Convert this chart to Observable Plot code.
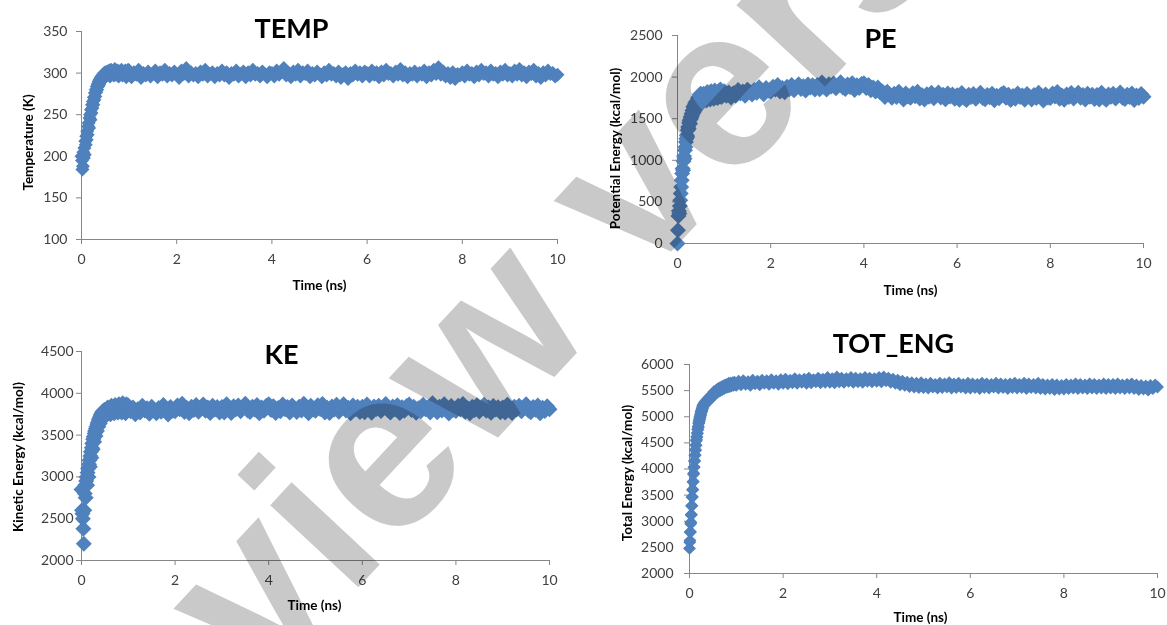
<!DOCTYPE html>
<html><head><meta charset="utf-8">
<script src="https://cdn.jsdelivr.net/npm/d3@7"></script>
<script src="https://cdn.jsdelivr.net/npm/@observablehq/plot@0.6"></script>
<style>
body{margin:0;background:#fff;}
#wrap{position:relative;width:1167px;height:625px;overflow:hidden;background:#fff;font-family:Lato,sans-serif;}
.panel{position:absolute;}
#wm{position:absolute;left:0;top:0;mix-blend-mode:multiply;pointer-events:none;}
</style></head>
<body><div id="wrap"></div>
<script>
// ---- data ----
const xTicks = [0, 2, 4, 6, 8, 10];
const xLabel = "Time (ns)";
const titles = ["TEMP", "PE", "KE", "TOT_ENG"];
const yLabels = ["Temperature (K)", "Potential Energy (kcal/mol)", "Kinetic Energy (kcal/mol)", "Total Energy (kcal/mol)"];
const tempTicks = [100, 150, 200, 250, 300, 350];
const peTicks = [0, 500, 1000, 1500, 2000, 2500];
const keTicks = [2000, 2500, 3000, 3500, 4000, 4500];
const totTicks = [2000, 2500, 3000, 3500, 4000, 4500, 5000, 5500, 6000];
const watermark = "Preview version";

// sample times (ns)
const riseTimes = [
0,0.01,0.02,0.03,0.04,0.05,0.06,0.07,0.08,0.09,
0.1,0.11,0.12,0.13,0.14,0.15,0.16,0.17,0.18,0.19,
0.2,0.21,0.22,0.23,0.24,0.25,0.26,0.27,0.28,0.29,
0.3,0.31,0.32,0.33,0.34,0.35,0.36,0.37,0.38,0.39,
0.4,0.41,0.42,0.43,0.44,0.45,0.46,0.47,0.48,0.49,
0.5,
0.52,0.54,0.56,0.58,0.6,0.62,0.64,0.66,0.68,0.7,
0.72,0.74,0.76,0.78,0.8,0.82,0.84,0.86,0.88,0.9,
0.92,0.94,0.96,0.98];
const totRiseTimes = [
0,0.005,0.01,0.015,0.02,0.025,0.03,0.035,0.04,0.045,
0.05,0.055,0.06,0.065,0.07,0.075,0.08,0.085,0.09,0.095,
0.1,0.105,0.11,0.115,0.12,0.125,0.13,0.135,0.14,0.145,
0.15,0.155,0.16,0.165,0.17,0.175,0.18,0.185,0.19,0.195,
0.2,0.205,0.21,0.215,0.22,0.225,0.23,0.235,0.24,0.245,
0.25,0.255,0.26,0.265,0.27,0.275,0.28,0.285,0.29,0.295,
0.3,
0.31,0.32,0.33,0.34,0.35,0.36,0.37,0.38,0.39,0.4,
0.41,0.42,0.43,0.44,0.45,0.46,0.47,0.48,0.49,0.5,
0.52,0.54,0.56,0.58,0.6,0.62,0.64,0.66,0.68,0.7,
0.72,0.74,0.76,0.78,0.8,0.82,0.84,0.86,0.88,0.9,
0.92,0.94,0.96,0.98];
const flatTimes = [
1,1.05,1.1,1.15,1.2,1.25,1.3,1.35,1.4,1.45,1.5,1.55,1.6,1.65,1.7,1.75,1.8,1.85,1.9,1.95,
2,2.05,2.1,2.15,2.2,2.25,2.3,2.35,2.4,2.45,2.5,2.55,2.6,2.65,2.7,2.75,2.8,2.85,2.9,2.95,
3,3.05,3.1,3.15,3.2,3.25,3.3,3.35,3.4,3.45,3.5,3.55,3.6,3.65,3.7,3.75,3.8,3.85,3.9,3.95,
4,4.05,4.1,4.15,4.2,4.25,4.3,4.35,4.4,4.45,4.5,4.55,4.6,4.65,4.7,4.75,4.8,4.85,4.9,4.95,
5,5.05,5.1,5.15,5.2,5.25,5.3,5.35,5.4,5.45,5.5,5.55,5.6,5.65,5.7,5.75,5.8,5.85,5.9,5.95,
6,6.05,6.1,6.15,6.2,6.25,6.3,6.35,6.4,6.45,6.5,6.55,6.6,6.65,6.7,6.75,6.8,6.85,6.9,6.95,
7,7.05,7.1,7.15,7.2,7.25,7.3,7.35,7.4,7.45,7.5,7.55,7.6,7.65,7.7,7.75,7.8,7.85,7.9,7.95,
8,8.05,8.1,8.15,8.2,8.25,8.3,8.35,8.4,8.45,8.5,8.55,8.6,8.65,8.7,8.75,8.8,8.85,8.9,8.95,
9,9.05,9.1,9.15,9.2,9.25,9.3,9.35,9.4,9.45,9.5,9.55,9.6,9.65,9.7,9.75,9.8,9.85,9.9,9.95,
10];

const temp = [
200,195,184,188,205,198,210,202,218,214,
224,220,230,226,236,240,234,246,250,244,
256,252,262,258,266,262,271,268,276,272,
280,277,284,280,287,284,290,286,292,289,
294,290,296,292,297,293,299,295,300,296,
301,
297,302,298,303,296,304,299,301,297,305,
298,300,303,296,302,299,304,297,301,298,
303,295,300,304,
303,295,301,298,304,294,300,297,302,296,299,303,295,301,298,304,296,300,297,302,
298,294,303,299,306,296,301,297,300,295,302,298,304,296,299,301,295,300,297,303,
297,301,294,300,298,303,296,299,302,295,301,297,304,298,300,296,302,299,295,301,
300,296,303,298,301,306,297,300,295,302,298,304,296,301,299,303,295,300,297,302,
299,295,301,297,304,298,300,296,302,294,299,301,293,300,297,303,298,301,296,302,
300,296,303,298,301,295,302,297,304,299,300,296,302,298,305,297,301,295,300,298,
302,296,300,298,303,295,301,297,304,299,307,298,302,296,300,294,301,293,299,297,
301,296,303,298,300,295,302,297,304,299,301,296,303,298,300,295,302,298,304,297,
300,296,303,298,305,297,301,295,302,299,304,296,300,294,301,297,303,299,300,296,
298];

const pe = [
0,160,330,390,360,450,520,600,680,760,
840,900,880,990,1050,1020,1120,1160,1220,1260,
1300,1280,1360,1400,1380,1450,1480,1440,1520,1500,
1560,1530,1600,1560,1640,1580,1660,1600,1690,1620,
1700,1640,1720,1650,1750,1660,1760,1680,1790,1690,
1800,
1760,1700,1800,1730,1780,1720,1820,1750,1790,1730,
1830,1770,1800,1740,1840,1760,1810,1750,1830,1770,
1850,1760,1820,1780,
1830,1777,1816,1755,1806,1777,1844,1803,1826,1777,1848,1823,1790,1845,1812,1879,1834,1793,1868,1835,
1826,1884,1850,1904,1826,1868,1818,1884,1854,1904,1842,1876,1914,1856,1890,1840,1910,1876,1902,1852,
1906,1854,1934,1878,1850,1914,1886,1922,1866,1898,1938,1874,1858,1910,1882,1926,1846,1902,1870,1918,
1925,1869,1905,1841,1874,1827,1876,1817,1824,1760,1823,1790,1751,1800,1761,1824,1776,1732,1802,1766,
1751,1807,1771,1823,1743,1783,1731,1795,1763,1811,1747,1779,1815,1755,1787,1735,1803,1767,1791,1739,
1781,1729,1809,1753,1725,1789,1761,1797,1741,1773,1813,1749,1733,1785,1757,1801,1721,1777,1745,1793,
1808,1752,1788,1724,1772,1740,1804,1760,1780,1728,1796,1768,1732,1784,1748,1812,1764,1720,1792,1756,
1748,1804,1768,1820,1740,1780,1728,1792,1760,1808,1744,1776,1812,1752,1784,1732,1800,1764,1788,1736,
1784,1732,1812,1756,1728,1792,1764,1800,1744,1776,1816,1752,1736,1788,1760,1804,1724,1780,1748,1796,
1765];

const ke = [
2850,2600,2560,2500,2380,2200,2600,2800,2900,2750,
2950,3000,2900,3050,3100,3000,3150,3200,3120,3250,
3300,3230,3350,3400,3330,3450,3480,3420,3520,3550,
3490,3580,3600,3550,3630,3650,3600,3680,3700,3640,
3720,3740,3680,3760,3700,3780,3720,3790,3730,3800,
3740,
3790,3740,3830,3770,3810,3750,3850,3780,3820,3760,
3860,3790,3830,3770,3870,3800,3840,3770,3880,3790,
3830,3760,3870,3800,
3855,3785,3830,3750,3810,3770,3850,3795,3820,3755,3840,3805,3760,3825,3780,3860,3800,3745,3835,3790,
3785,3855,3810,3875,3775,3825,3760,3840,3800,3860,3780,3820,3865,3790,3830,3765,3850,3805,3835,3770,
3835,3770,3870,3800,3765,3845,3810,3855,3785,3825,3875,3795,3775,3840,3805,3860,3760,3830,3790,3850,
3870,3800,3845,3765,3825,3785,3865,3810,3835,3770,3855,3820,3775,3840,3795,3875,3815,3760,3850,3805,
3790,3858,3812,3872,3770,3828,3765,3843,3805,3862,3778,3823,3868,3793,3826,3762,3853,3808,3838,3775,
3838,3772,3866,3803,3768,3842,3812,3851,3788,3828,3872,3798,3771,3843,3808,3858,3763,3833,3792,3847,
3866,3801,3840,3766,3822,3785,3862,3808,3831,3770,3880,3816,3772,3838,3795,3870,3811,3758,3848,3802,
3788,3852,3809,3873,3778,3822,3762,3838,3801,3857,3783,3819,3862,3791,3829,3768,3848,3806,3833,3772,
3830,3769,3864,3798,3764,3840,3808,3850,3784,3822,3869,3793,3773,3836,3803,3855,3760,3828,3787,3845,
3810];

const tot = [
2480,2600,2630,2790,2800,2950,2980,3120,3130,3290,
3300,3460,3470,3600,3610,3750,3760,3900,3920,4030,
4040,4150,4160,4260,4270,4370,4360,4460,4450,4540,
4560,4620,4610,4690,4680,4760,4750,4820,4800,4880,
4870,4930,4910,4970,4950,5010,4990,5050,5030,5090,
5070,5120,5100,5150,5130,5180,5160,5210,5190,5230,
5210,
5260,5230,5280,5250,5300,5270,5320,5290,5340,5300,
5360,5320,5380,5340,5390,5360,5410,5370,5430,5400,
5480,5430,5500,5460,5530,5480,5550,5500,5570,5520,
5590,5540,5610,5560,5620,5570,5640,5580,5640,5590,
5650,5600,5660,5610,
5600,5680,5610,5690,5620,5670,5600,5700,5630,5680,5610,5700,5640,5690,5620,5710,5640,5690,5620,5710,
5640,5720,5630,5700,5650,5730,5640,5710,5660,5720,5640,5740,5650,5710,5670,5740,5650,5720,5660,5750,
5660,5730,5650,5760,5670,5740,5660,5730,5680,5750,5660,5740,5670,5730,5660,5750,5680,5740,5670,5730,
5680,5750,5670,5760,5690,5740,5660,5720,5640,5700,5610,5680,5600,5660,5580,5650,5570,5640,5560,5650,
5560,5630,5550,5640,5570,5620,5550,5640,5560,5630,5570,5650,5550,5630,5560,5640,5570,5620,5550,5640,
5550,5630,5560,5620,5540,5640,5560,5630,5550,5620,5570,5640,5550,5630,5560,5620,5540,5630,5560,5640,
5550,5620,5560,5640,5540,5630,5560,5620,5550,5640,5540,5620,5530,5610,5540,5620,5520,5610,5530,5600,
5530,5620,5540,5610,5550,5630,5540,5620,5550,5610,5540,5630,5550,5620,5540,5610,5550,5630,5540,5620,
5550,5620,5540,5630,5550,5610,5540,5620,5550,5630,5540,5610,5520,5600,5530,5590,5510,5600,5540,5610,
5570];

const timesMain = riseTimes.concat(flatTimes);
const timesTot = totRiseTimes.concat(flatTimes);
[[temp, timesMain], [pe, timesMain], [ke, timesMain], [tot, timesTot]].forEach(([a, t], i) => {
  if (a.length !== t.length) throw new Error("series " + i + " length " + a.length + " vs " + t.length);
});

// ---- layout ----
const FONT = "Lato, sans-serif";
const specs = [
  {values: temp, times: timesMain, yTicks: tempTicks, title: titles[0], ylabel: yLabels[0], left: 0, top: 0, w: 583, h: 312,
   ml: 81, mr: 26, mt: 31, mb: 73, yPad: 9, r: 6.3,
   tdx: -28, tdy: 6, ydx: -53, ydy: 7, xdx: 0, xdy: 46},
  {values: pe, times: timesMain, yTicks: peTicks, title: titles[1], ylabel: yLabels[1], left: 583, top: 0, w: 584, h: 312,
   ml: 94, mr: 24, mt: 35, mb: 69, yPad: 10, r: 7.2,
   tdx: -30, tdy: 12, ydx: -62, ydy: 9, xdx: 0, xdy: 47},
  {values: ke, times: timesMain, yTicks: keTicks, title: titles[2], ylabel: yLabels[2], left: 0, top: 312, w: 583, h: 313,
   ml: 81, mr: 34, mt: 39, mb: 65, yPad: 3, r: 7.2,
   tdx: -34, tdy: 12, ydx: -63, ydy: 1, xdx: -1, xdy: 45},
  {values: tot, times: timesTot, yTicks: totTicks, title: titles[3], ylabel: yLabels[3], left: 583, top: 312, w: 584, h: 313,
   ml: 106, mr: 10, mt: 52, mb: 52, yPad: 11, r: 5.8,
   tdx: -30, tdy: -12, ydx: -62, ydy: 4, xdx: -3, xdy: 44}
];

const wrap = document.getElementById("wrap");

for (const s of specs) {
  const data = s.times.map((t, i) => ({t, v: s.values[i]}));
  const y0 = s.yTicks[0], y1 = s.yTicks[s.yTicks.length - 1];
  const ax = {stroke: "#868686", fill: "#404040", fontSize: 14, fontFamily: FONT, tickSize: 5, label: null, tickFormat: d => String(d)};
  const chart = Plot.plot({
    width: s.w, height: s.h,
    marginLeft: s.ml, marginRight: s.mr, marginTop: s.mt, marginBottom: s.mb,
    style: {fontFamily: FONT, background: "transparent", overflow: "visible"},
    x: {domain: [0, 10]},
    y: {domain: [y0, y1]},
    marks: [
      Plot.ruleX([0], {stroke: "#868686"}),
      Plot.ruleY([y0], {stroke: "#868686"}),
      Plot.axisX({...ax, ticks: xTicks, tickPadding: 10}),
      Plot.axisY({...ax, ticks: s.yTicks, tickPadding: s.yPad}),
      Plot.dot(data, {x: "t", y: "v", symbol: "diamond2", r: s.r, fill: "#4f81bd"}),
      Plot.text([s.title], {text: d => d, frameAnchor: "top", textAnchor: "middle", lineAnchor: "bottom", dx: s.tdx, dy: s.tdy,
        fontSize: 27, fontWeight: "bold", fill: "#000", fontFamily: FONT}),
      Plot.text([s.ylabel], {text: d => d, frameAnchor: "left", textAnchor: "middle", rotate: -90, lineAnchor: "middle", dx: s.ydx, dy: s.ydy,
        fontSize: 13.5, fontWeight: "bold", fill: "#000", fontFamily: FONT}),
      Plot.text([xLabel], {text: d => d, frameAnchor: "bottom", textAnchor: "middle", lineAnchor: "middle", dx: s.xdx, dy: s.xdy,
        fontSize: 13.5, fontWeight: "bold", fill: "#000", fontFamily: FONT})
    ]
  });
  const div = document.createElement("div");
  div.className = "panel";
  div.style.left = s.left + "px";
  div.style.top = s.top + "px";
  div.appendChild(chart);
  wrap.appendChild(div);
}

// watermark overlay
const wm = d3.select(wrap).append("svg").attr("id", "wm").attr("width", 1167).attr("height", 625);
wm.append("text")
  .attr("transform", "translate(560,286) rotate(-47)")
  .attr("y", 58)
  .attr("text-anchor", "middle")
  .attr("font-family", "Liberation Sans, Arial, sans-serif")
  .attr("font-weight", "bold")
  .attr("font-size", 228)
  .attr("fill", "#c9c9c9")
  .text(watermark);
</script></body></html>
